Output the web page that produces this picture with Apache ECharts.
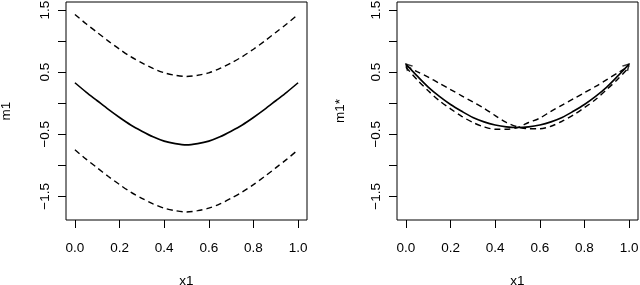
<!DOCTYPE html>
<html>
<head>
<meta charset="utf-8">
<script src="https://cdn.jsdelivr.net/npm/echarts@6/dist/echarts.min.js"></script>
<style>
  html, body { margin: 0; padding: 0; background: #fff; }
  #chart { width: 640px; height: 285px; }
</style>
</head>
<body>
<div id="chart"></div>
<script>
// ---- data ----
const x1 = [0, 0.05, 0.1, 0.15, 0.2, 0.25, 0.3, 0.35, 0.4, 0.45, 0.5, 0.55, 0.6, 0.65, 0.7, 0.75, 0.8, 0.85, 0.9, 0.95, 1];

// left panel: m1 with bands
const m1Fit   = [0.33, 0.18, 0.04, -0.10, -0.23, -0.35, -0.45, -0.54, -0.61, -0.65, -0.67, -0.65, -0.61, -0.54, -0.45, -0.35, -0.23, -0.10, 0.04, 0.18, 0.33];
const m1Upper = [1.43, 1.28, 1.14, 1.00, 0.87, 0.75, 0.65, 0.56, 0.49, 0.45, 0.43, 0.45, 0.49, 0.56, 0.65, 0.75, 0.87, 1.00, 1.14, 1.28, 1.43];
const m1Lower = [-0.75, -0.90, -1.04, -1.18, -1.31, -1.43, -1.53, -1.62, -1.69, -1.73, -1.75, -1.73, -1.69, -1.62, -1.53, -1.43, -1.31, -1.18, -1.04, -0.90, -0.75];

// right panel: m1* with two dashed curves
const m1sFit = [0.63, 0.44, 0.26, 0.11, -0.02, -0.13, -0.23, -0.30, -0.35, -0.38, -0.39, -0.38, -0.35, -0.30, -0.23, -0.13, -0.02, 0.11, 0.26, 0.44, 0.63];
const m1sA   = [0.60, 0.51, 0.42, 0.32, 0.22, 0.12, 0.02, -0.08, -0.20, -0.31, -0.38, -0.41, -0.41, -0.37, -0.29, -0.19, -0.07, 0.06, 0.22, 0.39, 0.58];
const m1sB   = [0.58, 0.38, 0.20, 0.04, -0.09, -0.21, -0.31, -0.38, -0.42, -0.42, -0.39, -0.31, -0.24, -0.13, -0.03, 0.07, 0.17, 0.27, 0.38, 0.49, 0.60];

// ticks
const xTicks = [0, 0.2, 0.4, 0.6, 0.8, 1.0];
const yTicks = [-1.5, -1.0, -0.5, 0, 0.5, 1.0, 1.5];
const yLabels = [-1.5, -0.5, 0.5, 1.5];

const FONT = '"Liberation Sans", Arial, Helvetica, sans-serif';
const pairs = (ys) => x1.map((x, i) => [x, ys[i]]);

function xAxisDef(gi) {
  return {
    gridIndex: gi, type: 'value', min: -0.04, max: 1.04, position: 'bottom',
    name: 'x1', nameLocation: 'middle', nameGap: 54,
    nameTextStyle: { fontFamily: FONT, fontSize: 13.5, color: '#000' },
    axisLine: { show: false, onZero: false },
    splitLine: { show: false },
    axisTick: { show: true, inside: false, length: 8, customValues: xTicks, lineStyle: { color: '#000', width: 1 } },
    axisLabel: { show: true, customValues: xTicks, margin: 21, fontFamily: FONT, fontSize: 13.5, color: '#000',
      formatter: (v) => v.toFixed(1) }
  };
}
function yAxisDef(gi, name, gap) {
  return {
    gridIndex: gi, type: 'value', min: -1.88, max: 1.63, position: 'left',
    name: name, nameLocation: 'middle', nameGap: gap,
    nameTextStyle: { fontFamily: FONT, fontSize: 13.5, color: '#000' },
    axisLine: { show: false, onZero: false },
    splitLine: { show: false },
    axisTick: { show: true, inside: false, length: 8, customValues: yTicks, lineStyle: { color: '#000', width: 1 } },
    axisLabel: { show: true, customValues: yLabels, rotate: 90, margin: 14, fontFamily: FONT, fontSize: 13.5, color: '#000',
      formatter: (v) => (v < 0 ? '\u2212' : '') + Math.abs(v).toFixed(1) }
  };
}
function lineSeries(gi, ys, dashed) {
  return {
    type: 'line', xAxisIndex: gi, yAxisIndex: gi, data: pairs(ys),
    symbol: 'none', smooth: 0.3, silent: true, animation: false,
    lineStyle: { color: '#000', width: dashed ? 1.4 : 1.6, type: dashed ? [6, 4] : 'solid' }
  };
}
const ARROW = 'path://M0,10L5,0L10,10';
const ang = 43.5, h = 6, rad = ang * Math.PI / 180;
const arrowSeries = {
  type: 'scatter', xAxisIndex: 1, yAxisIndex: 1, silent: true, animation: false,
  data: [
    { value: [x1[0], m1sFit[0]], symbolRotate: ang, symbolOffset: [Math.sin(rad) * h / 2, Math.cos(rad) * h / 2] },
    { value: [x1[x1.length - 1], m1sFit[m1sFit.length - 1]], symbolRotate: -ang, symbolOffset: [-Math.sin(rad) * h / 2, Math.cos(rad) * h / 2] }
  ],
  symbol: ARROW, symbolSize: [7, h], symbolKeepAspect: false,
  itemStyle: { color: 'rgba(0,0,0,0)', borderColor: '#000', borderWidth: 1.4 }
};

const gridBase = { top: 2, width: 241, height: 218, show: true, borderColor: '#000', borderWidth: 1,
  backgroundColor: 'transparent', containLabel: false, outerBoundsMode: 'none' };

const chart = echarts.init(document.getElementById('chart'), null, { renderer: 'canvas' });
chart.setOption({
  backgroundColor: '#fff',
  animation: false,
  textStyle: { fontFamily: FONT },
  grid: [
    Object.assign({ left: 66 }, gridBase),
    Object.assign({ left: 397 }, gridBase)
  ],
  xAxis: [xAxisDef(0), xAxisDef(1)],
  yAxis: [yAxisDef(0, 'm1', 53), yAxisDef(1, 'm1*', 50)],
  series: [
    lineSeries(0, m1Upper, true),
    lineSeries(0, m1Fit, false),
    lineSeries(0, m1Lower, true),
    lineSeries(1, m1sA, true),
    lineSeries(1, m1sFit, false),
    lineSeries(1, m1sB, true),
    arrowSeries
  ]
});
</script>
</body>
</html>
